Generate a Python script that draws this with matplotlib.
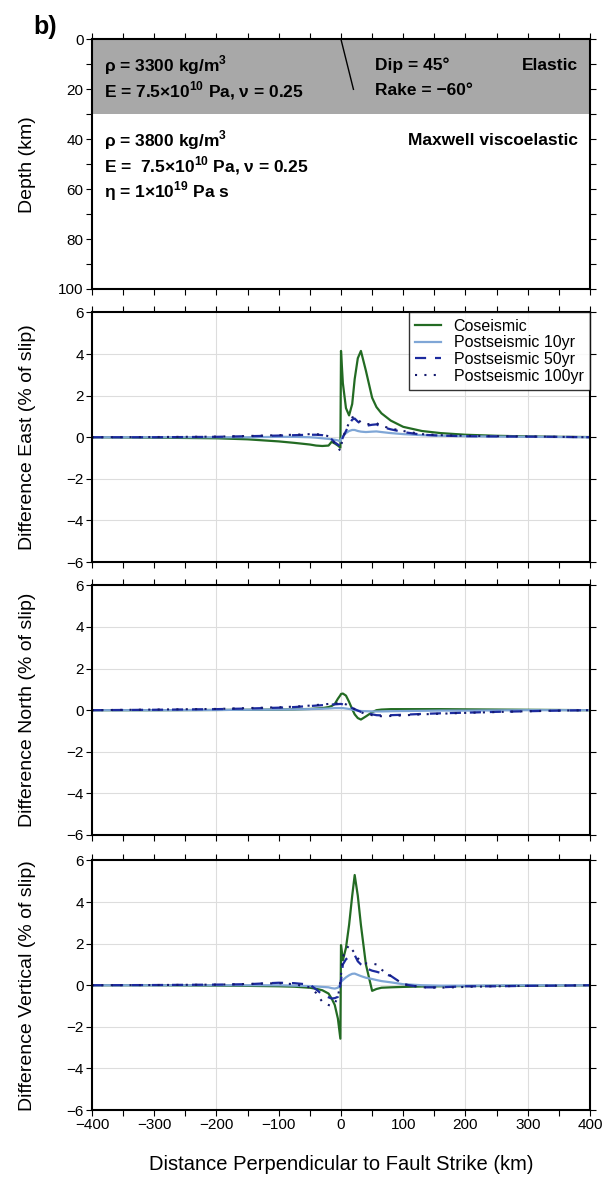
import numpy as np
import matplotlib.pyplot as plt
from matplotlib.ticker import MultipleLocator

plt.rcParams['font.family'] = ['Liberation Sans', 'DejaVu Sans']
plt.rcParams['mathtext.fontset'] = 'custom'
plt.rcParams['mathtext.rm'] = 'Liberation Sans'
plt.rcParams['mathtext.bf'] = 'Liberation Sans:bold'

# ==========================================
# DATA
# ==========================================
dist_km = [-400, -300, -200, -150, -100, -75, -50, -40, -30, -20, -15, -10, -5, -1, 0,
           3, 8, 13, 18, 22, 27, 32, 40, 50, 57, 65, 80, 100, 130, 160, 200, 250, 300, 350, 400]

east_co = [0, -0.02, -0.05, -0.1, -0.2, -0.27, -0.35, -0.4, -0.42, -0.4, -0.22, -0.3, -0.4, -0.5, 4.15,
           2.6, 1.4, 1.05, 1.6, 2.8, 3.8, 4.15, 3.2, 1.9, 1.45, 1.15, 0.8, 0.5, 0.3, 0.2, 0.12, 0.07, 0.04, 0.02, 0.01]
east_10 = [0, 0, 0, 0, 0.02, 0.02, 0.0, -0.02, -0.05, -0.08, -0.1, -0.12, -0.15, -0.2, -0.1,
           0.05, 0.2, 0.3, 0.35, 0.35, 0.3, 0.27, 0.25, 0.27, 0.28, 0.25, 0.2, 0.15, 0.1, 0.07, 0.05, 0.03, 0.02, 0.01, 0]
east_50 = [0, 0.0, 0.02, 0.05, 0.08, 0.1, 0.12, 0.12, 0.1, 0.02, -0.1, -0.25, -0.35, -0.45, -0.3,
           0.0, 0.3, 0.6, 0.85, 0.9, 0.75, 0.65, 0.55, 0.6, 0.62, 0.5, 0.38, 0.25, 0.12, 0.08, 0.05, 0.04, 0.03, 0.02, 0]
east_100 = [0, 0.01, 0.03, 0.06, 0.1, 0.12, 0.15, 0.15, 0.12, 0.05, -0.1, -0.3, -0.5, -0.65, -0.45,
            0.0, 0.35, 0.7, 0.95, 1.0, 0.85, 0.72, 0.62, 0.65, 0.68, 0.55, 0.42, 0.3, 0.15, 0.1, 0.07, 0.05, 0.04, 0.02, 0]

north_co = [0, 0, 0.01, 0.02, 0.03, 0.04, 0.06, 0.08, 0.1, 0.15, 0.2, 0.3, 0.55, 0.72, 0.78,
            0.8, 0.7, 0.4, 0.05, -0.2, -0.38, -0.45, -0.3, -0.1, 0.0, 0.03, 0.05, 0.05, 0.05, 0.05, 0.04, 0.03, 0.02, 0.01, 0]
north_10 = [0, 0, 0.01, 0.02, 0.03, 0.04, 0.05, 0.06, 0.07, 0.08, 0.09, 0.1, 0.1, 0.1, 0.1,
            0.1, 0.08, 0.06, 0.03, 0.0, -0.02, -0.04, -0.05, -0.06, -0.06, -0.06, -0.05, -0.04, -0.03, -0.02, -0.02, -0.01, 0, 0, 0]
north_50 = [0, 0.02, 0.05, 0.08, 0.12, 0.15, 0.2, 0.22, 0.24, 0.26, 0.27, 0.28, 0.29, 0.3, 0.3,
            0.28, 0.24, 0.18, 0.1, 0.05, -0.02, -0.08, -0.15, -0.2, -0.24, -0.25, -0.24, -0.22, -0.18, -0.15, -0.12, -0.08, -0.05, -0.02, 0]
north_100 = [0, 0.03, 0.06, 0.1, 0.14, 0.17, 0.22, 0.25, 0.27, 0.3, 0.31, 0.32, 0.33, 0.34, 0.34,
             0.32, 0.28, 0.2, 0.12, 0.05, -0.03, -0.1, -0.18, -0.24, -0.28, -0.29, -0.28, -0.25, -0.2, -0.17, -0.13, -0.09, -0.05, -0.02, 0]

vert_co = [0, 0, -0.02, -0.03, -0.05, -0.07, -0.12, -0.17, -0.24, -0.4, -0.64, -0.95, -1.6, -2.57, 1.93,
           1.2, 1.8, 2.9, 4.3, 5.3, 4.3, 2.9, 1.0, -0.27, -0.18, -0.12, -0.1, -0.08, -0.06, -0.05, -0.04, -0.03, -0.02, -0.01, 0]
vert_10 = [0, 0, 0, 0, 0.0, -0.02, -0.04, -0.06, -0.08, -0.1, -0.14, -0.16, -0.12, 0.05, 0.16,
           0.25, 0.38, 0.48, 0.55, 0.56, 0.5, 0.44, 0.36, 0.3, 0.25, 0.2, 0.14, 0.05, 0.0, -0.02, -0.02, -0.01, 0, 0, 0]
vert_50 = [0, 0.01, 0.03, 0.05, 0.12, 0.1, 0.03, -0.2, -0.45, -0.58, -0.64, -0.62, -0.56, 0.0, 0.24,
           1.0, 1.25, 1.36, 1.42, 1.45, 1.15, 1.0, 0.82, 0.7, 0.65, 0.58, 0.45, 0.05, -0.1, -0.1, -0.05, -0.05, -0.03, -0.02, 0]
vert_100 = [0, 0.01, 0.03, 0.06, 0.1, 0.05, -0.1, -0.37, -0.8, -0.95, -1.0, -0.85, -0.6, 0.2, 0.5,
            1.36, 1.7, 1.93, 1.7, 1.55, 1.3, 1.15, 1.05, 1.04, 1.0, 0.75, 0.45, 0.05, -0.1, -0.12, -0.08, -0.05, -0.03, -0.02, 0]

series_labels = ['Coseismic', 'Postseismic 10yr', 'Postseismic 50yr', 'Postseismic 100yr']
panel_ylabels = ['Difference East (% of slip)', 'Difference North (% of slip)', 'Difference Vertical (% of slip)']
panel_data = [
    [east_co, east_10, east_50, east_100],
    [north_co, north_10, north_50, north_100],
    [vert_co, vert_10, vert_50, vert_100],
]

fault_x = [0, 20]
fault_depth = [0, 20]
elastic_thickness = 30

# ==========================================
# STYLES
# ==========================================
styles = [
    dict(color='#236b23', lw=1.6, ls='-'),
    dict(color='#7fa6d6', lw=1.6, ls='-'),
    dict(color='#1c2a9e', lw=1.6, ls=(0, (5, 4))),
    dict(color='#141a6e', lw=1.5, ls=(0, (1, 3.5))),
]

fig = plt.figure(figsize=(6.06, 11.8), dpi=100)

ax_left, ax_w, ax_h = 0.1518, 0.8218, 0.2115
bottoms = [0.7551, 0.5237, 0.2924, 0.0593]
ylabel_x = -0.112


def style_axis(ax):
    for sp in ax.spines.values():
        sp.set_linewidth(1.5)
    ax.tick_params(which='both', direction='out', top=True, right=True,
                   length=4, width=0.8, labelsize=11, pad=2)
    ax.set_xlim(-400, 400)
    ax.xaxis.set_major_locator(MultipleLocator(100))
    ax.xaxis.set_minor_locator(MultipleLocator(50))


# ---- Top panel: model geometry ----
ax0 = fig.add_axes([ax_left, bottoms[0], ax_w, ax_h])
style_axis(ax0)
ax0.set_ylim(100, 0)
ax0.yaxis.set_major_locator(MultipleLocator(20))
ax0.yaxis.set_minor_locator(MultipleLocator(10))
ax0.tick_params(labelbottom=False)
ax0.axhspan(0, elastic_thickness, color='#a8a8a8', lw=0, zorder=0)
ax0.plot(fault_x, fault_depth, color='black', lw=1.0)
ax0.set_ylabel('Depth (km)', fontsize=14)
ax0.yaxis.set_label_coords(ylabel_x, 0.5)

txt = dict(fontsize=12.5, fontweight='bold', va='center')
ax0.text(-380, 10.5, r'ρ = 3300 kg/m$^{\mathbf{3}}$', **txt)
ax0.text(-380, 20.5, r'E = 7.5×10$^{\mathbf{10}}$ Pa, ν = 0.25', **txt)
ax0.text(55, 10.5, 'Dip = 45°', **txt)
ax0.text(55, 20.5, 'Rake = −60°', **txt)
ax0.text(380, 10.5, 'Elastic', ha='right', **txt)
ax0.text(-380, 40.5, r'ρ = 3800 kg/m$^{\mathbf{3}}$', **txt)
ax0.text(-380, 50.8, r'E =  7.5×10$^{\mathbf{10}}$ Pa, ν = 0.25', **txt)
ax0.text(-380, 61, r'η = 1×10$^{\mathbf{19}}$ Pa s', **txt)
ax0.text(380, 40.5, 'Maxwell viscoelastic', ha='right', **txt)

# ---- Difference panels ----
for i, (ylabel, data) in enumerate(zip(panel_ylabels, panel_data)):
    ax = fig.add_axes([ax_left, bottoms[i + 1], ax_w, ax_h])
    style_axis(ax)
    ax.set_ylim(-6, 6)
    ax.yaxis.set_major_locator(MultipleLocator(2))
    for gx in [-200, 0, 200, 300]:
        ax.axvline(gx, color='#dddddd', lw=0.8, zorder=0)
    for gy in [-4, -2, 0, 2, 4]:
        ax.axhline(gy, color='#dddddd', lw=0.8, zorder=0)
    for vals, lab, st in zip(data, series_labels, styles):
        ax.plot(dist_km, vals, label=lab, **st)
    ax.set_ylabel(ylabel, fontsize=14)
    ax.yaxis.set_label_coords(ylabel_x, 0.5)
    if i < 2:
        ax.tick_params(labelbottom=False)
    else:
        ax.set_xlabel('Distance Perpendicular to Fault Strike (km)', fontsize=14.5, labelpad=16)
    if i == 0:
        leg = ax.legend(loc='upper right', borderaxespad=0, fontsize=11.5, frameon=True,
                        fancybox=False, handlelength=1.6, labelspacing=0.1,
                        borderpad=0.4, handletextpad=0.8)
        leg.get_frame().set_edgecolor('black')
        leg.get_frame().set_linewidth(1.0)

fig.text(0.094, 0.977, 'b)', fontsize=18, fontweight='bold', ha='right', va='center')

fig.savefig('out.png', dpi=100)
